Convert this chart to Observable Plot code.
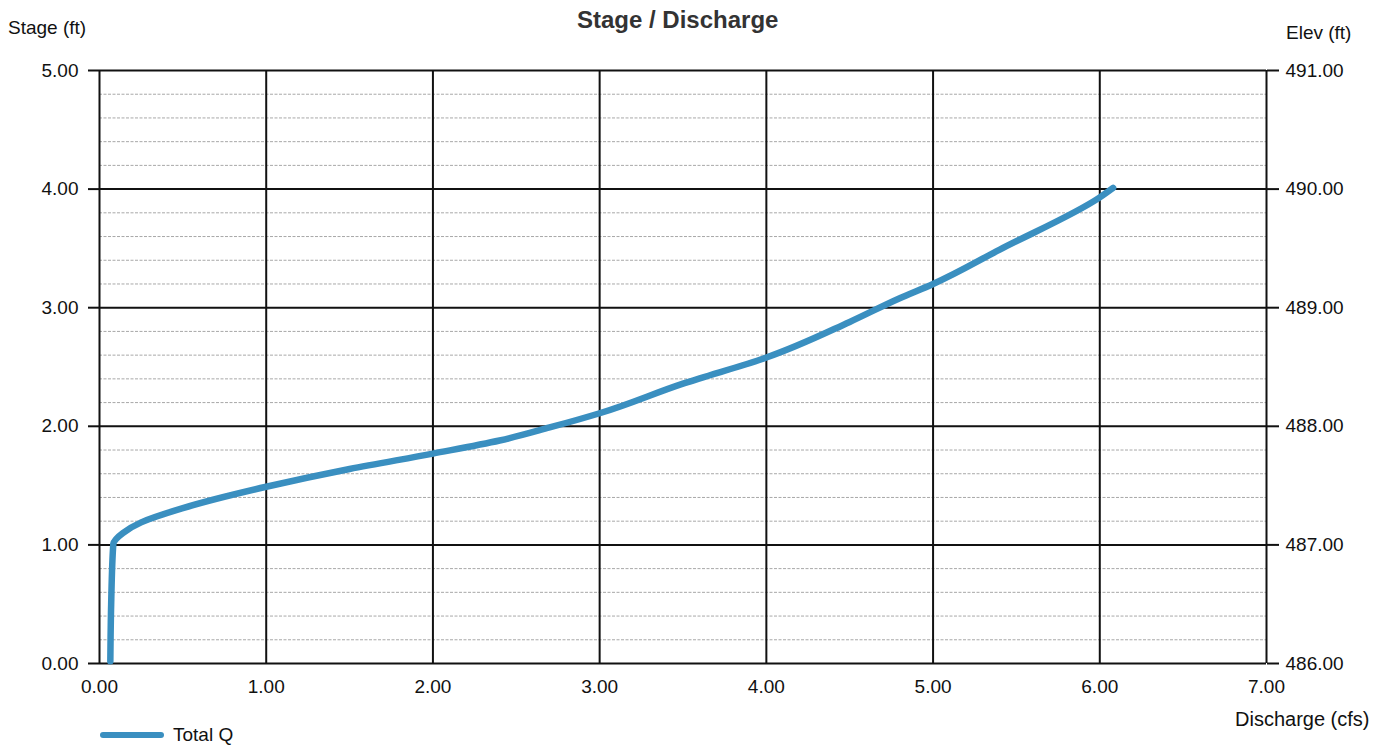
<!DOCTYPE html>
<html>
<head>
<meta charset="utf-8">
<script src="https://cdn.jsdelivr.net/npm/d3@7"></script>
<script src="https://cdn.jsdelivr.net/npm/@observablehq/plot@0.6"></script>
<style>
  html, body { margin: 0; padding: 0; background: #fff; overflow: hidden; }
  #wrap { position: relative; width: 1383px; height: 745px; font-family: "Liberation Sans", Arial, sans-serif; color: #111; }
  #chart { position: absolute; left: 0; top: 0; }
  .lbl { position: absolute; white-space: nowrap; line-height: 1; }
</style>
</head>
<body>
<div id="wrap">
  <div id="chart"></div>
  <div class="lbl" style="left:8px;top:18px;font-size:19px;">Stage (ft)</div>
  <div class="lbl" style="left:577px;top:8px;font-size:24px;font-weight:bold;color:#333;">Stage / Discharge</div>
  <div class="lbl" style="left:1286px;top:23px;font-size:19px;">Elev (ft)</div>
  <div class="lbl" style="left:1235px;top:709px;font-size:20px;">Discharge (cfs)</div>
  <div class="lbl" style="left:100px;top:732px;width:64px;height:6px;border-radius:3px;background:#3a8fc0;"></div>
  <div class="lbl" style="left:173px;top:725px;font-size:19px;">Total Q</div>
</div>
<script>
// Discharge (cfs) vs Stage (ft)
const discharge = [0.065, 0.07, 0.083, 0.10, 0.14, 0.25, 0.50, 1.00, 1.50, 2.00, 2.40, 2.70, 3.00, 3.50, 4.00, 4.50, 4.80, 5.00, 5.40, 6.00, 6.08];
const stage     = [0.02,  0.50, 1.01,  1.05, 1.10, 1.19, 1.31, 1.49, 1.64, 1.77, 1.88, 1.99, 2.11, 2.36, 2.58, 2.88, 3.08, 3.20, 3.49, 3.93, 4.01];
const xTicks = [0, 1, 2, 3, 4, 5, 6, 7];
const yTicks = [0, 1, 2, 3, 4, 5];
const yMinor = [0.2, 0.4, 0.6, 0.8, 1.2, 1.4, 1.6, 1.8, 2.2, 2.4, 2.6, 2.8, 3.2, 3.4, 3.6, 3.8, 4.2, 4.4, 4.6, 4.8];
const elevBase = 486;

const data = discharge.map((q, i) => ({q, s: stage[i]}));

const chart = Plot.plot({
  width: 1383,
  height: 745,
  marginLeft: 99,
  marginRight: 117,
  marginTop: 70,
  marginBottom: 82,
  style: {fontFamily: "Liberation Sans, Arial, sans-serif", fontSize: "19px", color: "#111", background: "#fff"},
  x: {domain: [0, 7]},
  y: {domain: [0, 5]},
  marks: [
    Plot.ruleY(yMinor, {stroke: "#a8a8a8", strokeWidth: 1, strokeDasharray: "3,1.5"}),
    Plot.ruleX(xTicks, {stroke: "#111", strokeWidth: 2}),
    Plot.ruleY(yTicks, {stroke: "#111", strokeWidth: 2}),
    Plot.axisY({anchor: "left", ticks: yTicks, tickSize: 11, tickPadding: 10, tickFormat: d => d.toFixed(2), label: null, strokeWidth: 2}),
    Plot.axisY({anchor: "right", ticks: yTicks, tickSize: 12, tickPadding: 7, tickFormat: d => (d + elevBase).toFixed(2), label: null, strokeWidth: 2}),
    Plot.axisX({ticks: xTicks, tickSize: 0, tickPadding: 16, tickFormat: d => d.toFixed(2), label: null}),
    Plot.line(data, {x: "q", y: "s", stroke: "#3a8fc0", strokeWidth: 6.5, curve: "monotone-y", strokeLinecap: "round", strokeLinejoin: "round"})
  ]
});
document.getElementById("chart").appendChild(chart);
</script>
</body>
</html>
